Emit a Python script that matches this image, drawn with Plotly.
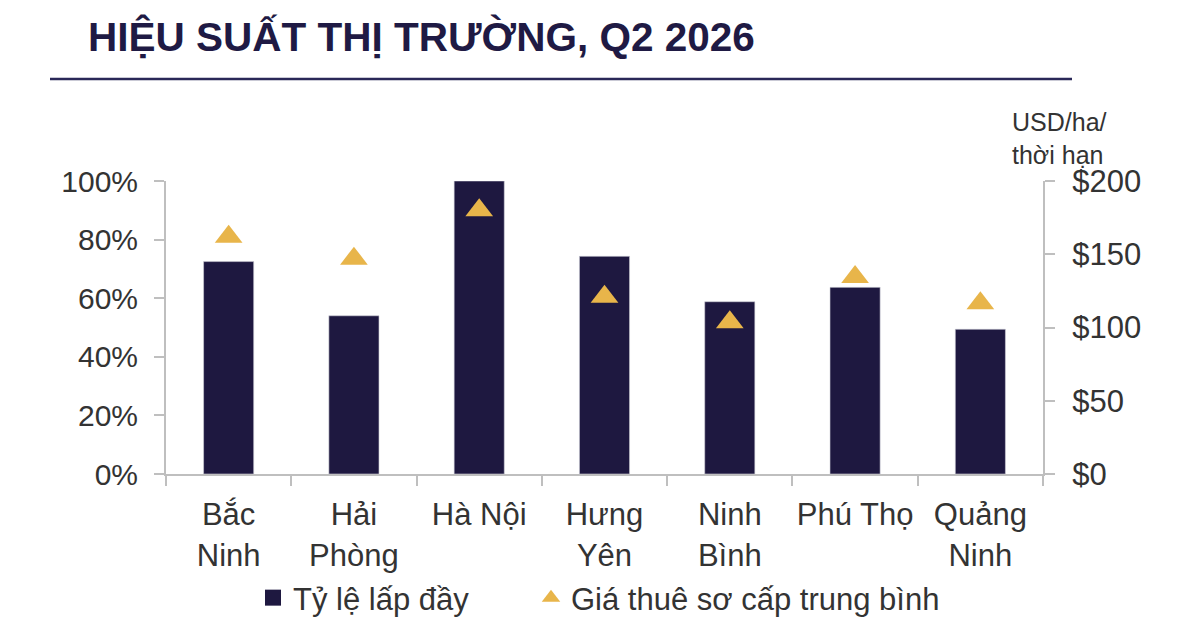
# Hiệu suất thị trường Q2 2026 - tỷ lệ lấp đầy & giá thuê
import plotly.graph_objects as go

provinces = ["Bắc<br>Ninh", "Hải<br>Phòng", "Hà Nội", "Hưng<br>Yên",
             "Ninh<br>Bình", "Phú Thọ", "Quảng<br>Ninh"]
occupancy = [0.725, 0.54, 1.00, 0.743, 0.588, 0.637, 0.494]   # Tỷ lệ lấp đầy
rent = [162, 147, 180, 121, 103.5, 134.5, 116.5]             # USD/ha/thời hạn

NAVY = "#1e1840"
GOLD = "#e8b54a"
GREY = "#bfbfbf"
TXT = "#333333"
FONT = "Liberation Sans, Arial, sans-serif"

# the page puts the plot 8px in from the top-left corner, so pull margins in by 8
L, T, R, B = 166 - 8, 181 - 8, 1200 - 1043 + 8, 642 - 474 + 8
PH = 293      # plot height px
PW = 877      # plot width px


def px_x(x):
    return (x - 166) / PW


def px_y(y):
    return (474 - y) / PH


fig = go.Figure()

fig.add_trace(go.Bar(
    x=provinces, y=occupancy, name="Tỷ lệ lấp đầy", showlegend=False,
    marker=dict(color=NAVY, line=dict(color="#d0d0d8", width=0.6)),
))
fig.add_trace(go.Scatter(
    x=provinces, y=rent, name="Giá thuê sơ cấp trung bình", yaxis="y2",
    mode="markers", showlegend=False,
    marker=dict(symbol="triangle-up", size=24, color=GOLD),
))

# legend entries (bigger symbols than the default bar icon), one legend each
fig.add_trace(go.Scatter(x=[None], y=[None], mode="markers", name="Tỷ lệ lấp đầy",
                         legend="legend",
                         marker=dict(symbol="square", size=16, color=NAVY)))
fig.add_trace(go.Scatter(x=[None], y=[None], mode="markers", name="Giá thuê sơ cấp trung bình",
                         yaxis="y2", legend="legend2",
                         marker=dict(symbol="triangle-up", size=16, color=GOLD)))

leg = dict(orientation="h", xanchor="left", yanchor="middle", y=px_y(598),
           font=dict(size=31, color=TXT), itemwidth=30, itemsizing="trace",
           bgcolor="rgba(0,0,0,0)")

fig.update_layout(
    width=1200, height=642,
    margin=dict(l=L, r=R, t=T, b=B),
    paper_bgcolor="white", plot_bgcolor="white",
    font=dict(family=FONT, size=29, color=TXT),
    bargap=0.6,
    showlegend=True,
    legend=dict(leg, x=px_x(253)),
    legend2=dict(leg, x=px_x(531)),
    xaxis=dict(
        showline=True, linecolor=GREY, linewidth=2,
        ticks="outside", tickson="boundaries", ticklen=10, tickcolor=GREY, tickwidth=2,
        tickangle=0, tickfont=dict(size=31, color=TXT), showgrid=False, ticklabelstandoff=12,
    ),
    yaxis=dict(
        range=[0, 1], dtick=0.2, tickformat=".0%",
        showline=True, linecolor=GREY, linewidth=2,
        ticks="outside", ticklen=10, tickcolor=GREY, tickwidth=2,
        ticklabelstandoff=10, showgrid=False, zeroline=False,
        tickfont=dict(size=30, color=TXT),
    ),
    yaxis2=dict(
        overlaying="y", side="right", range=[0, 200], dtick=50, tickprefix="$",
        showline=True, linecolor=GREY, linewidth=2,
        ticks="outside", ticklen=10, tickcolor=GREY, tickwidth=2,
        ticklabelstandoff=11, showgrid=False, zeroline=False,
        tickfont=dict(size=31, color=TXT),
    ),
)

# title + rule
fig.add_annotation(
    text="<b>HIỆU SUẤT THỊ TRƯỜNG, Q2 2026</b>", xref="paper", yref="paper",
    x=px_x(86), y=px_y(37), xanchor="left", yanchor="middle",
    showarrow=False, font=dict(family=FONT, size=40.5, color="#1f1a44"),
)
fig.add_shape(type="line", xref="paper", yref="paper",
              x0=px_x(50), x1=px_x(1072), y0=px_y(79), y1=px_y(79),
              line=dict(color="#2a2858", width=2.5))

# right axis unit label
fig.add_annotation(
    text="USD/ha/<br>thời hạn", xref="paper", yref="paper",
    x=px_x(1010), y=px_y(138), xanchor="left", yanchor="middle",
    align="left", showarrow=False, font=dict(size=25, color=TXT),
)

fig.write_html("out.html")
